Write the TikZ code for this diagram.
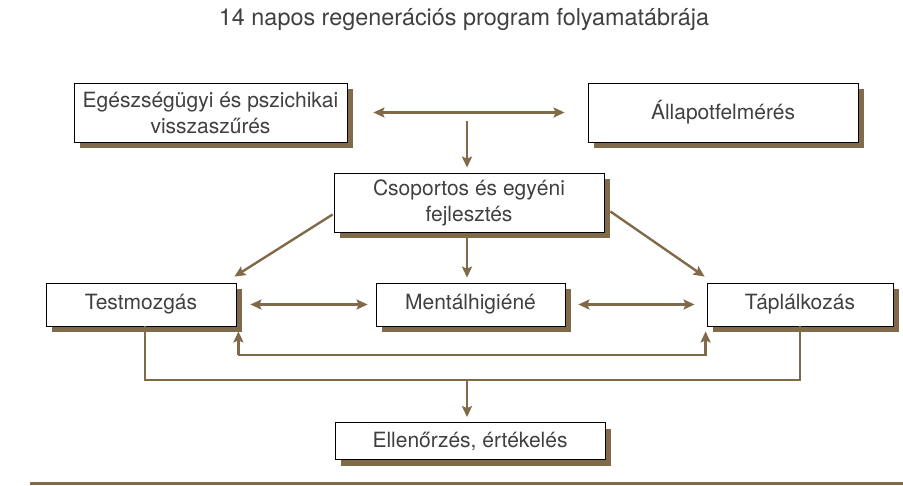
\documentclass[tikz,border=0pt]{standalone}
\usepackage{fontspec}
\setmainfont{TeX Gyre Heros}
\usetikzlibrary{arrows.meta,shadows,calc}
\definecolor{brn}{RGB}{128,106,74}
\begin{document}
\begin{tikzpicture}[x=1pt,y=-1pt,
  box/.style={draw=black,line width=0.8pt,fill=white,align=center,inner sep=2pt,
    font=\fontsize{21}{26}\selectfont,text=black!75,
    drop shadow={shadow xshift=6pt,shadow yshift=-6pt,fill=brn,opacity=1}},
  conn/.style={draw=brn,line width=2.4pt},
  tip/.style={-{Stealth[length=11pt,width=10pt,inset=2pt]}},
  tips/.style={{Stealth[length=11pt,width=10pt,inset=2pt]}-{Stealth[length=11pt,width=10pt,inset=2pt]}}]
\useasboundingbox (0,0) rectangle (903,485);
\node[font=\fontsize{23.4}{28}\selectfont,text=black!75] (title) at (464,19) {14 napos regenerációs program folyamatábrája};
\node[box,minimum width=273pt,minimum height=59pt] (b1) at (210.5,112.5) {Egészségügyi és pszichikai\\visszaszűrés};
\node[box,minimum width=270pt,minimum height=59pt] (b2) at (723,112.5) {Állapotfelmérés};
\node[box,minimum width=270pt,minimum height=59pt] (b3) at (469,202.5) {Csoportos és egyéni\\fejlesztés};
\node[box,minimum width=190pt,minimum height=43pt] (t) at (141,304.5) {Testmozgás};
\node[box,minimum width=189pt,minimum height=43pt] (m) at (470.5,304.5) {Mentálhigiéné};
\node[box,minimum width=186pt,minimum height=43pt] (p) at (800,304.5) {Táplálkozás};
\node[box,minimum width=270pt,minimum height=37pt] (e) at (470,441) {Ellenőrzés, értékelés};
\coordinate (c1) at (467,121);
\coordinate (l1) at (238,355);
\coordinate (o1) at (145,380);
\coordinate (o2) at (467,380);
\coordinate (bl1) at (30,483);
\coordinate (bl2) at (903,483);
\draw[conn,tips,shorten <=26pt,shorten >=23pt] (b1.east) -- (b2.west);
\draw[conn,tip] (c1) -- ($(c1 |- b3.north)+(0,-5)$);
\draw[conn,tip] ($(b3.west)+(-1,12)$) -- ($(t.north east)+(-2,-6)$);
\draw[conn,tip] ($(b3.east)+(6,9)$) -- ($(p.north west)+(-2,-6)$);
\draw[conn,tip,shorten <=6pt,shorten >=5pt] (b3.south -| c1) -- (m.north -| c1);
\draw[conn,tips,shorten <=14pt,shorten >=8pt] (t.east) -- (m.west);
\draw[conn,tips,shorten <=13pt,shorten >=12pt] (m.east) -- (p.west);
\draw[conn,tips] ($(t.south east)+(2,5)$) |- (l1) -| ($(p.south west)+(-1,5)$);
\draw[conn] ($(t.south)+(4,0)$) |- (o1) -| (p.south);
\draw[conn,tip] (o2) -- ($(e.north -| o2)+(0,-5)$);
\draw[draw=brn,line width=3pt] (bl1) -- (bl2);
\end{tikzpicture}
\end{document}
